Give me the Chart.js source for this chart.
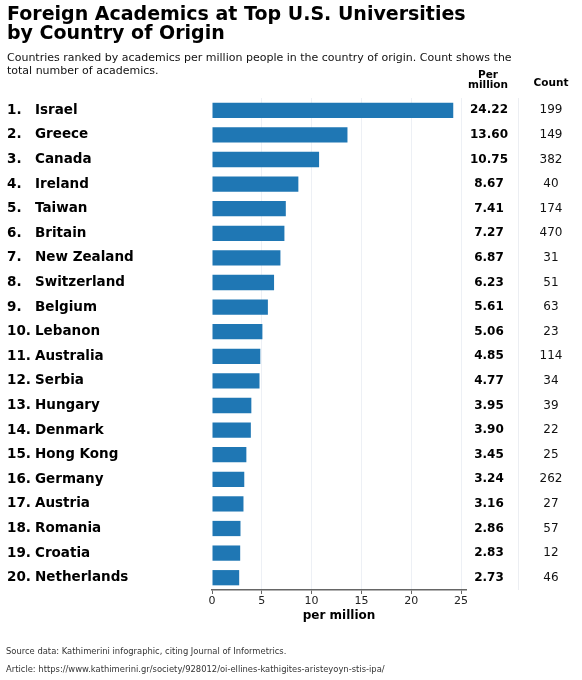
<!DOCTYPE html>
<html>
<head>
<meta charset="utf-8">
<script src="https://cdn.jsdelivr.net/npm/chart.js@4/dist/chart.umd.min.js"></script>
<style>
  html, body { margin: 0; padding: 0; background: #fff; }
  #wrap { width: 582px; height: 680px; position: relative; }
</style>
</head>
<body>
<div id="wrap"><canvas id="chart"></canvas></div>
<script>
const countries = ['Israel', 'Greece', 'Canada', 'Ireland', 'Taiwan', 'Britain', 'New Zealand', 'Switzerland',
  'Belgium', 'Lebanon', 'Australia', 'Serbia', 'Hungary', 'Denmark', 'Hong Kong', 'Germany', 'Austria',
  'Romania', 'Croatia', 'Netherlands'];
const perMillion = [24.22, 13.60, 10.75, 8.67, 7.41, 7.27, 6.87, 6.23, 5.61, 5.06, 4.85, 4.77, 3.95, 3.90,
  3.45, 3.24, 3.16, 2.86, 2.83, 2.73];
const counts = [199, 149, 382, 40, 174, 470, 31, 51, 63, 23, 114, 34, 39, 22, 25, 262, 27, 57, 12, 46];
const xTicks = [0, 5, 10, 15, 20, 25];

const FONT = "'DejaVu Sans', sans-serif";

// table text, header and footnotes drawn around the chart area
const textPlugin = {
  id: 'textPlugin',
  afterDraw(chart) {
    const ctx = chart.ctx;
    const y = chart.scales.y;
    const area = chart.chartArea;
    ctx.save();
    ctx.textBaseline = 'middle';

    // title + subtitle
    ctx.fillStyle = '#000';
    ctx.textAlign = 'left';
    ctx.font = 'bold 19px ' + FONT;
    ctx.fillText('Foreign Academics at Top U.S. Universities', 7, 15);
    ctx.fillText('by Country of Origin', 7, 34);
    ctx.font = '11px ' + FONT;
    ctx.fillStyle = '#111';
    ctx.fillText('Countries ranked by academics per million people in the country of origin. Count shows the', 7, 58);
    ctx.fillText('total number of academics.', 7, 71);

    // column headers
    ctx.fillStyle = '#000';
    ctx.textAlign = 'center';
    ctx.font = 'bold 10.5px ' + FONT;
    ctx.fillText('Per', 488, 75);
    ctx.fillText('million', 488, 85);
    ctx.fillText('Count', 551, 83);

    // separator between the two columns
    ctx.strokeStyle = '#eceef2';
    ctx.lineWidth = 1;
    ctx.beginPath();
    ctx.moveTo(518.5, area.top);
    ctx.lineTo(518.5, area.bottom);
    ctx.stroke();

    countries.forEach((name, i) => {
      const py = y.getPixelForValue(i);
      ctx.fillStyle = '#000';
      ctx.textAlign = 'left';
      ctx.font = 'bold 13.5px ' + FONT;
      ctx.fillText((i + 1) + '.', 7, py);
      ctx.fillText(name, 35, py);
      ctx.textAlign = 'center';
      ctx.font = 'bold 12px ' + FONT;
      ctx.fillText(perMillion[i].toFixed(2), 489, py);
      ctx.font = '12px ' + FONT;
      ctx.fillStyle = '#111';
      ctx.fillText(String(counts[i]), 551, py);
    });

    // footnotes
    ctx.textAlign = 'left';
    ctx.font = '8.4px ' + FONT;
    ctx.fillStyle = '#333';
    ctx.fillText('Source data: Kathimerini infographic, citing Journal of Informetrics.', 6, 652);
    ctx.fillText('Article: https://www.kathimerini.gr/society/928012/oi-ellines-kathigites-aristeyoyn-stis-ipa/', 6, 670);
    ctx.restore();
  }
};

new Chart(document.getElementById('chart'), {
  type: 'bar',
  data: {
    labels: countries,
    datasets: [{
      data: perMillion,
      backgroundColor: '#1f77b4',
      borderWidth: 0,
      categoryPercentage: 1.0,
      barPercentage: 0.62
    }]
  },
  options: {
    indexAxis: 'y',
    responsive: true,
    maintainAspectRatio: false,
    animation: false,
    layout: { padding: { left: 212, right: 116, top: 98, bottom: 50 } },
    plugins: {
      legend: { display: false },
      tooltip: { enabled: false },
      title: { display: false }
    },
    scales: {
      y: { display: false },
      x: {
        min: 0,
        max: 25.5,
        z: 1,
        afterBuildTicks: (scale) => { scale.ticks = xTicks.map(v => ({ value: v })); },
        afterFit: (scale) => { scale.height = 40; },
        border: { display: true, color: '#666', width: 1.5 },
        grid: {
          color: (c) => c.tick && c.tick.value === 0 ? 'rgba(0,0,0,0)' : 'rgba(215,222,232,0.45)',
          lineWidth: 1,
          tickLength: 4,
          tickColor: '#666',
          tickWidth: 1
        },
        ticks: {
          padding: 1,
          color: '#222',
          font: { family: FONT, size: 11 }
        },
        title: {
          display: true,
          text: 'per million',
          color: '#000',
          font: { family: FONT, size: 12, weight: 'bold' },
          padding: { top: 2, bottom: 7 }
        }
      }
    }
  },
  plugins: [textPlugin]
});
</script>
</body>
</html>
